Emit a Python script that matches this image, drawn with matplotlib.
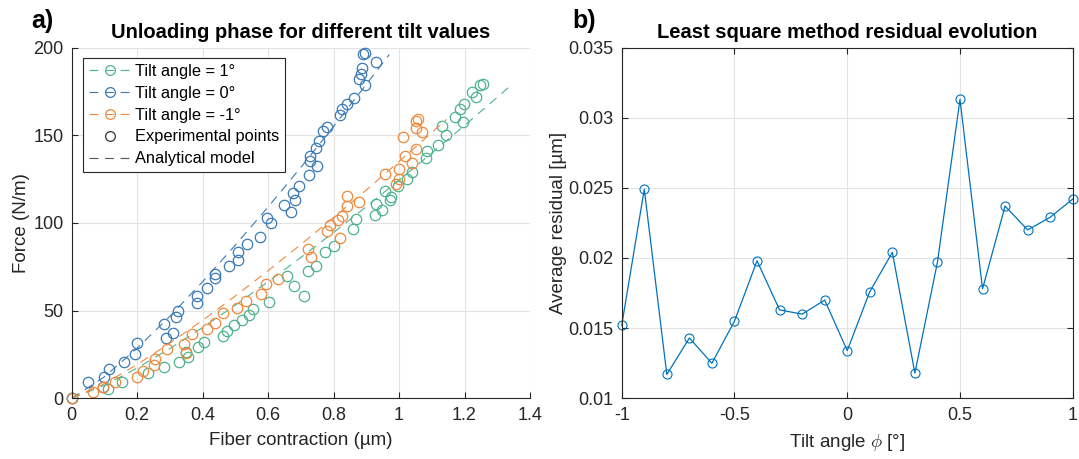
import numpy as np
import matplotlib
matplotlib.use('Agg')
import matplotlib.pyplot as plt
from matplotlib.lines import Line2D
from matplotlib.ticker import FuncFormatter

plt.rcParams['font.family'] = ['Liberation Sans', 'DejaVu Sans']
plt.rcParams['mathtext.fontset'] = 'cm'

# ---- data: panel a) experimental points ----
blue_x = [0, 0.049, 0.096, 0.097, 0.115, 0.161, 0.193, 0.200, 0.282, 0.288, 0.310, 0.318,
          0.326, 0.382, 0.382, 0.412, 0.438, 0.438, 0.481, 0.509, 0.509, 0.536, 0.575,
          0.595, 0.608, 0.649, 0.670, 0.681, 0.677, 0.695, 0.726, 0.728, 0.728, 0.750,
          0.745, 0.756, 0.768, 0.780, 0.819, 0.826, 0.842, 0.863, 0.896, 0.877, 0.885,
          0.888, 0.928, 0.890, 0.896]
blue_f = [0, 9.5, 6.5, 12.3, 16.6, 20.6, 25.3, 31.8, 42.3, 34.6, 37.1, 46.1,
          49.9, 54.3, 58.5, 62.9, 68.6, 71.0, 75.2, 79.0, 83.5, 88.2, 92.0,
          103.0, 100.0, 110.0, 106.1, 113.0, 117.1, 121.3, 127.6, 135.2, 138.1, 132.3,
          142.9, 146.6, 152.4, 154.9, 161.3, 164.7, 167.6, 171.4, 178.5, 181.9, 185.1,
          188.2, 191.8, 196.2, 197.1]

orange_x = [0, 0.066, 0.095, 0.132, 0.198, 0.217, 0.252, 0.254, 0.292, 0.349, 0.344, 0.366,
            0.412, 0.438, 0.463, 0.504, 0.532, 0.578, 0.593, 0.631, 0.722, 0.730, 0.779,
            0.789, 0.814, 0.821, 0.827, 0.840, 0.840, 0.877, 0.957, 0.992, 1.000, 1.000,
            1.018, 1.038, 1.013, 1.053, 1.069, 1.051, 1.053, 1.058]
orange_f = [0, 3.8, 6.6, 9.5, 12.3, 15.6, 19.0, 22.5, 28.2, 26.1, 31.2, 36.6,
            39.4, 42.9, 48.6, 51.4, 55.6, 59.4, 65.1, 68.2, 85.1, 80.6, 95.2,
            99.0, 101.5, 91.4, 104.2, 109.5, 115.2, 111.8, 128.0, 121.9, 125.3, 130.8,
            138.1, 133.9, 148.9, 142.3, 151.8, 154.3, 158.0, 159.0]

green_x = [0, 0.112, 0.153, 0.234, 0.283, 0.329, 0.356, 0.349, 0.387, 0.405, 0.463, 0.473,
           0.496, 0.519, 0.542, 0.555, 0.603, 0.658, 0.679, 0.709, 0.722, 0.746, 0.774,
           0.802, 0.858, 0.867, 0.926, 0.947, 0.931, 0.972, 0.974, 0.957, 0.997, 1.025,
           1.040, 1.081, 1.084, 1.119, 1.142, 1.130, 1.194, 1.170, 1.186, 1.199, 1.236,
           1.224, 1.247, 1.257]
green_f = [0, 5.3, 9.5, 14.3, 17.7, 20.9, 23.8, 26.6, 29.5, 32.3, 35.8, 38.5,
           41.6, 44.7, 47.6, 50.9, 54.9, 69.5, 63.8, 58.6, 72.7, 75.2, 83.4,
           86.6, 96.6, 102.3, 104.7, 107.6, 111.0, 113.3, 114.9, 118.1, 120.9, 125.1,
           129.1, 137.1, 140.9, 144.3, 150.1, 155.2, 157.7, 160.6, 164.7, 167.6, 172.0,
           174.6, 178.6, 179.0]

# ---- data: panel a) analytical model curves (read off the dashed lines) ----
blue_model_x = [0, 0.1, 0.2, 0.3, 0.4, 0.5, 0.6, 0.7, 0.8, 0.9, 0.97]
blue_model_f = [0, 12.3, 28.6, 46.8, 66.5, 87.4, 109.1, 131.7, 155.0, 179.0, 196.0]
orange_model_x = [0, 0.1, 0.2, 0.3, 0.4, 0.5, 0.6, 0.7, 0.8, 0.9, 1.0, 1.1, 1.145]
orange_model_f = [0, 8.3, 19.3, 31.5, 44.5, 58.4, 72.8, 87.7, 103.1, 118.8, 135.0, 151.5, 159.0]
green_model_x = [0, 0.1, 0.2, 0.3, 0.4, 0.5, 0.6, 0.7, 0.8, 0.9, 1.0, 1.1, 1.2, 1.3, 1.345]
green_model_f = [0, 7.4, 17.3, 28.4, 40.4, 53.1, 66.5, 80.3, 94.6, 109.3, 124.4, 139.8,
                 155.6, 171.6, 179.0]

# ---- data: panel b) residual vs tilt ----
tilt = [-1, -0.9, -0.8, -0.7, -0.6, -0.5, -0.4, -0.3, -0.2, -0.1, 0,
        0.1, 0.2, 0.3, 0.4, 0.5, 0.6, 0.7, 0.8, 0.9, 1.0]
residual = [0.0152, 0.0249, 0.0117, 0.0143, 0.0125, 0.0155, 0.0198, 0.0163, 0.0160, 0.0170,
            0.0134, 0.0176, 0.0204, 0.0118, 0.0197, 0.0313, 0.0178, 0.0237, 0.0220,
            0.0229, 0.0242]

c_green = '#4DB38E'
c_blue = '#3A7AB6'
c_orange = '#F0883A'
c_ax = '#262626'
dash = (0, (8, 6))

fig = plt.figure(figsize=(10.79, 4.59), dpi=100)
ax1 = fig.add_axes([0.0665, 0.1322, 0.4247, 0.7643])
ax2 = fig.add_axes([0.5762, 0.1322, 0.4180, 0.7643])

# panel a
for mx, mf, px, pf, c in [(green_model_x, green_model_f, green_x, green_f, c_green),
                          (blue_model_x, blue_model_f, blue_x, blue_f, c_blue),
                          (orange_model_x, orange_model_f, orange_x, orange_f, c_orange)]:
    ax1.plot(mx, mf, ls=dash, color=c, lw=0.8)
    ax1.plot(px, pf, ls='none', marker='o', ms=7.5, mfc='none', mec=c, mew=0.9,
             clip_on=False)

ax1.set_xlim(0, 1.4)
ax1.set_ylim(0, 200)
ax1.set_xticks(np.arange(0, 1.41, 0.2))
ax1.set_xticklabels(['0', '0.2', '0.4', '0.6', '0.8', '1', '1.2', '1.4'])
ax1.set_yticks([0, 50, 100, 150, 200])
ax1.spines['top'].set_visible(False)
ax1.spines['right'].set_visible(False)
ax1.set_xlabel('Fiber contraction (µm)', fontsize=13.5, color=c_ax, labelpad=6)
ax1.set_ylabel('Force (N/m)', fontsize=13.5, color=c_ax, labelpad=2)
ax1.set_title('Unloading phase for different tilt values', fontsize=14.5,
              fontweight='bold', pad=7)

handles = [
    Line2D([], [], ls=dash, color=c_green, lw=0.8, marker='o', mfc='none', ms=7, mew=0.9),
    Line2D([], [], ls=dash, color=c_blue, lw=0.8, marker='o', mfc='none', ms=7, mew=0.9),
    Line2D([], [], ls=dash, color=c_orange, lw=0.8, marker='o', mfc='none', ms=7, mew=0.9),
    Line2D([], [], ls='none', color='#333333', marker='o', mfc='none', ms=7, mew=0.9),
    Line2D([], [], ls=dash, color='#555555', lw=0.8),
]
labels = ['Tilt angle = 1°', 'Tilt angle = 0°', 'Tilt angle = -1°',
          'Experimental points', 'Analytical model']
leg = ax1.legend(handles, labels, loc='upper left', fontsize=11.8, frameon=True,
                 fancybox=False, edgecolor=c_ax, framealpha=1, handlelength=2.6,
                 handletextpad=0.2, borderpad=0.35, labelspacing=0.42,
                 bbox_to_anchor=(0.025, 0.97), borderaxespad=0, numpoints=1)
leg.get_frame().set_linewidth(0.8)

# panel b
ax2.plot(tilt, residual, color='#0072BD', lw=0.9, marker='o', ms=6.5, mfc='none', mew=0.8,
         clip_on=False)
ax2.set_xlim(-1, 1)
ax2.set_ylim(0.01, 0.035)
ax2.set_xticks([-1, -0.5, 0, 0.5, 1])
ax2.set_yticks([0.01, 0.015, 0.02, 0.025, 0.03, 0.035])
fmt = FuncFormatter(lambda v, p: '%g' % round(v, 4))
ax2.xaxis.set_major_formatter(fmt)
ax2.yaxis.set_major_formatter(fmt)
ax2.set_xlabel(r'Tilt angle $\phi$ [°]', fontsize=13.5, color=c_ax, labelpad=6)
ax2.set_ylabel('Average residual [µm]', fontsize=13.5, color=c_ax, labelpad=1)
ax2.set_title('Least square method residual evolution', fontsize=14.5,
              fontweight='bold', pad=7)
ax2.tick_params(top=True, right=True)

for ax in (ax1, ax2):
    ax.grid(True, color='#e3e3e3', lw=0.8)
    ax.set_axisbelow(True)
    ax.tick_params(direction='in', length=4, width=0.8, labelsize=13,
                   colors=c_ax, pad=6)
    for s in ax.spines.values():
        s.set_color(c_ax)
        s.set_linewidth(0.8)

fig.text(0.039, 0.955, 'a)', fontsize=18, fontweight='bold', ha='center', va='center')
fig.text(0.541, 0.955, 'b)', fontsize=18, fontweight='bold', ha='center', va='center')

fig.savefig('out.png', dpi=100)
